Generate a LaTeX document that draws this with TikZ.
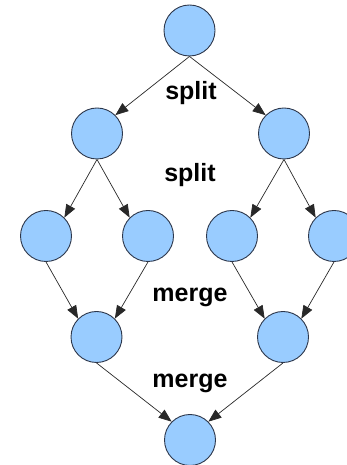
\documentclass[tikz,border=0pt]{standalone}
\usepackage{fontspec}
\setmainfont{Liberation Sans}
\usetikzlibrary{arrows.meta}
\definecolor{nodefill}{RGB}{153,204,255}
\definecolor{nodeline}{RGB}{45,55,75}
\definecolor{edgecol}{RGB}{40,40,40}
\tikzset{
  task/.style={circle,draw=nodeline,fill=nodefill,line width=0.9pt,minimum size=51pt,inner sep=0pt},
  conn/.style={draw=edgecol,line width=0.7pt,-{Triangle[length=13pt,width=10pt]}},
  lbl/.style={font=\fontsize{25}{28}\selectfont\bfseries,anchor=base,inner sep=0pt}
}
\begin{document}
\begin{tikzpicture}[x=1pt,y=1pt]
\useasboundingbox (0,0) rectangle (347,465);
\begin{scope}
\clip (0,0) rectangle (347,465);
\node[task] (t) at (189.5,434.5) {};
\node[task] (l2a) at (97,331.5) {};
\node[task] (l2b) at (284,331.5) {};
\node[task] (l3a) at (46,229) {};
\node[task] (l3b) at (148,229) {};
\node[task] (l3c) at (232,229) {};
\node[task] (l3d) at (334,229) {};
\node[task] (l4a) at (96.5,128) {};
\node[task] (l4b) at (283,128) {};
\node[task] (b) at (190,25) {};
\draw[conn] (t.south) -- (l2a.north east);
\draw[conn] (t.south) -- (l2b.north west);
\draw[conn] (l2a.south) -- (l3a.north east);
\draw[conn] (l2a.south) -- (l3b.north west);
\draw[conn] (l2b.south) -- (l3c.north east);
\draw[conn] (l2b.south) -- (l3d.north west);
\draw[conn] (l3a.south) -- (l4a.north west);
\draw[conn] (l3b.south) -- (l4a.north east);
\draw[conn] (l3c.south) -- (l4b.north west);
\draw[conn] (l3d.south) -- (l4b.north east);
\draw[conn] (l4a.south) -- (b.north west);
\draw[conn] (l4b.south) -- (b.north east);
\end{scope}
\node[lbl] (s1) at (191,365) {split};
\node[lbl] (s2) at (190,283) {split};
\node[lbl] (m1) at (190,163) {merge};
\node[lbl] (m2) at (190,77) {merge};
\end{tikzpicture}
\end{document}
